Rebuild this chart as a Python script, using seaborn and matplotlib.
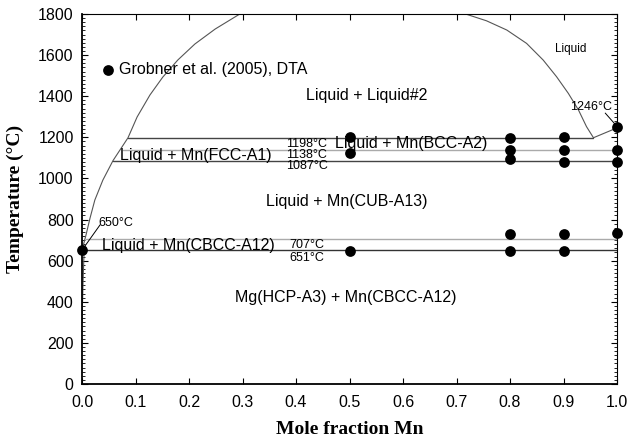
import numpy as np
import pandas as pd
import matplotlib
matplotlib.use('Agg')
import matplotlib.pyplot as plt
from matplotlib.ticker import MultipleLocator, FormatStrFormatter
import seaborn as sns

# Mg-Mn phase diagram, calculated boundaries + DTA points
# liquidus / miscibility gap, Mg-rich side
left_x = [0.0, 0.0075, 0.015, 0.024, 0.039, 0.058, 0.086, 0.103, 0.127, 0.151, 0.179, 0.211, 0.249, 0.295]
left_t = [651, 725, 807, 895, 992, 1087, 1198, 1299, 1406, 1493, 1576, 1654, 1727, 1800]
# miscibility gap, Mn-rich side
right_x = [0.717, 0.756, 0.794, 0.831, 0.862, 0.887, 0.909, 0.928, 0.943, 0.956]
right_t = [1800, 1767, 1722, 1657, 1576, 1495, 1414, 1333, 1252, 1198]
# liquidus above monotectic
top_x = [0.956, 1.0]
top_t = [1198, 1246]
# Mn solubility in Mg(HCP)
solv_x = [0.004, 0.002, 0.001, 0.0]
solv_t = [651, 500, 400, 300]

# invariant lines: temperature, x start, x end
inv_t = [1198, 1138, 1087, 707, 651]
inv_x0 = [0.086, 0.077, 0.058, 0.007, 0.0]
inv_x1 = [0.956, 1.0, 1.0, 1.0, 1.0]
inv_col = ['#444444', '#aaaaaa', '#444444', '#aaaaaa', '#333333']

# Grobner et al. (2005), DTA
dta_x = [0.0, 0.5, 0.5, 0.5, 0.8, 0.8, 0.8, 0.8, 0.8, 0.9, 0.9, 0.9, 0.9, 0.9, 1.0, 1.0, 1.0, 1.0]
dta_t = [651, 1200, 1124, 647, 1198, 1138, 1095, 730, 645, 1200, 1138, 1082, 730, 645, 1250, 1138, 1082, 735]

sns.set_style('ticks', rc={'text.color': 'black', 'axes.labelcolor': 'black',
                           'xtick.color': 'black', 'ytick.color': 'black',
                           'axes.edgecolor': 'black'})
fig = plt.figure(figsize=(6.31, 4.41), dpi=100)
ax = fig.add_axes([82 / 631, 1 - 384 / 441, 535 / 631, 370 / 441])

sans = 'Liberation Sans'
serif = 'Liberation Serif'

for xs, ts in [(left_x, left_t), (right_x, right_t), (top_x, top_t), (solv_x, solv_t)]:
    sns.lineplot(x=xs, y=ts, sort=False, estimator=None, color='#555555', lw=0.8, ax=ax)

for t, x0, x1, c in zip(inv_t, inv_x0, inv_x1, inv_col):
    sns.lineplot(x=[x0, x1], y=[t, t], color=c, lw=1.0, ax=ax)

dta = pd.DataFrame({'x': dta_x, 'T': dta_t})
sns.scatterplot(data=dta, x='x', y='T', color='black', s=60, edgecolor='black',
                linewidth=0, zorder=5, clip_on=False, label='Grobner et al. (2005), DTA', ax=ax)

leg = ax.legend(loc='center left', bbox_to_anchor=(0.036, 0.849), frameon=False,
                handlelength=0.8, handletextpad=0.3, borderaxespad=0, borderpad=0,
                prop={'family': sans, 'size': 11.5})

# phase region labels
fs = 11.5
ax.text(0.533, 1405, 'Liquid + Liquid#2', ha='center', va='center', family=sans, fontsize=fs)
ax.text(0.615, 1172, 'Liquid + Mn(BCC-A2)', ha='center', va='center', family=sans, fontsize=fs)
ax.text(0.213, 1114, 'Liquid + Mn(FCC-A1)', ha='center', va='center', family=sans, fontsize=fs)
ax.text(0.495, 890, 'Liquid + Mn(CUB-A13)', ha='center', va='center', family=sans, fontsize=fs)
ax.text(0.198, 676, 'Liquid + Mn(CBCC-A12)', ha='center', va='center', family=sans, fontsize=fs)
ax.text(0.493, 423, 'Mg(HCP-A3) + Mn(CBCC-A12)', ha='center', va='center', family=sans, fontsize=fs)
ax.text(0.914, 1629, 'Liquid', ha='center', va='center', family=sans, fontsize=8.5)

# temperature annotations
sf = 9
ax.text(0.42, 1167, '1198°C', ha='center', va='center', family=sans, fontsize=sf)
ax.text(0.42, 1114, '1138°C', ha='center', va='center', family=sans, fontsize=sf)
ax.text(0.42, 1060, '1087°C', ha='center', va='center', family=sans, fontsize=sf)
ax.text(0.42, 676, '707°C', ha='center', va='center', family=sans, fontsize=sf)
ax.text(0.42, 613, '651°C', ha='center', va='center', family=sans, fontsize=sf)
ax.text(0.951, 1347, '1246°C', ha='center', va='center', family=sans, fontsize=sf)
ax.text(0.064, 783, '650°C', ha='center', va='center', family=sans, fontsize=sf)
ax.plot([0.978, 0.996], [1318, 1265], color='black', lw=0.7)
ax.plot([0.0, 0.034], [651, 775], color='black', lw=0.7)

ax.set_xlim(0, 1)
ax.set_ylim(0, 1800)
ax.xaxis.set_major_locator(MultipleLocator(0.1))
ax.xaxis.set_major_formatter(FormatStrFormatter('%.1f'))
ax.yaxis.set_major_locator(MultipleLocator(200))
ax.yaxis.set_minor_locator(MultipleLocator(20))
ax.tick_params(which='major', direction='in', length=4, width=0.8, top=True, right=True,
               labelsize=11.5, pad=6)
ax.tick_params(axis='x', which='major', pad=8)
ax.tick_params(which='minor', direction='in', length=2.5, width=0.6, left=True, right=True)
ax.tick_params(axis='x', which='minor', bottom=False, top=False)
for lab in ax.get_xticklabels() + ax.get_yticklabels():
    lab.set_family(sans)
for s in ['left', 'bottom']:
    ax.spines[s].set_linewidth(1.3)
for s in ['top', 'right']:
    ax.spines[s].set_linewidth(0.8)
    ax.spines[s].set_visible(True)
    ax.spines[s].set_color('black')

ax.set_xlabel('Mole fraction Mn', family=serif, fontweight='bold', fontsize=14, labelpad=8)
ax.set_ylabel('Temperature (°C)', family=serif, fontweight='bold', fontsize=14, labelpad=10)

fig.savefig('out.png', dpi=100)
